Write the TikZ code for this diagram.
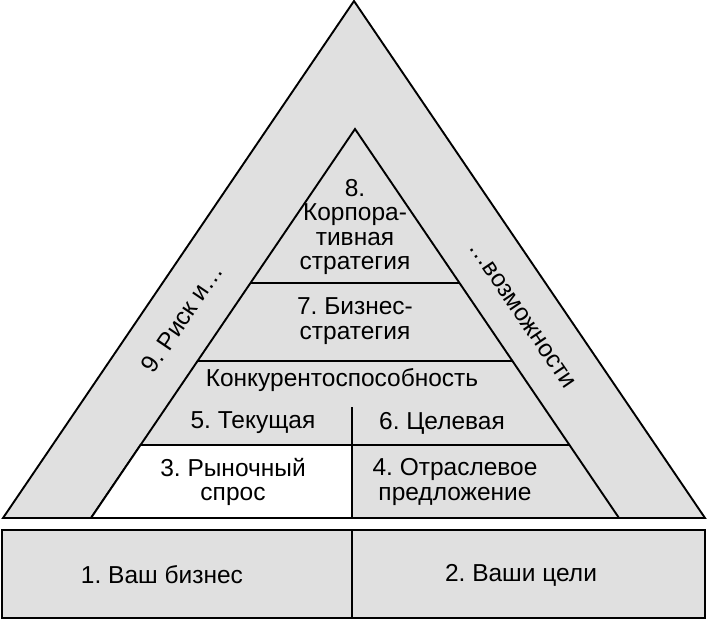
\documentclass[tikz,border=0pt]{standalone}
\usepackage{fontspec}
\setmainfont{Liberation Sans}
\frenchspacing
\begin{document}
\begin{tikzpicture}
[x=1pt,y=-1pt,
  lineDecorate/.style={-,line width=1.9pt,line join=miter},%
  areaDecorate/.style={lineDecorate,fill=black!12},
  labelDecorate/.style={align=center,inner sep=0pt,font=\fontsize{24.5}{24.5}\selectfont}]
\useasboundingbox (0,0) rectangle (707,620);
%% areas
\draw[areaDecorate] (3,518) -- (354,1) -- (705,518) -- cycle;
\draw[areaDecorate] (91,518) -- (355,129) -- (619,518) -- cycle;
\draw[lineDecorate,fill=white] (140.5,445) -- (352,445) -- (352,518) -- (91,518) -- cycle;
\draw[areaDecorate] (2,530) rectangle (705,618);
%% lines
\draw[lineDecorate] (250.5,283) -- (459.5,283);
\draw[lineDecorate] (197.5,361) -- (512.5,361);
\draw[lineDecorate] (140.5,445) -- (569.5,445);
\draw[lineDecorate] (352,407) -- (352,518);
\draw[lineDecorate] (352,530) -- (352,618);
%% labels
\foreach \nodename/\x/\y/\txt in {
  corp/355/227/{8.\\Корпора-\\тивная\\стратегия},
  biz/355/321/{7. Бизнес-\\стратегия},
  comp/342/380/{Конкурентоспособность},
  cur/253/423/{5. Текущая}, goal/442/423/{6. Целевая},
  demand/233/482/{3. Рыночный\\спрос},
  supply/455/482/{4. Отраслевое\\предложение},
  own/162/575/{1. Ваш бизнес}, aims/521/575/{2. Ваши цели}}
{
  \node (\nodename) at (\x,\y) [labelDecorate] {\txt};
}
\node (risk) at (182,318) [labelDecorate,rotate=55.8] {9. Риск и…};
\node (chance) at (522,315) [labelDecorate,rotate=-55.8] {…возможности};
\end{tikzpicture}
\end{document}
